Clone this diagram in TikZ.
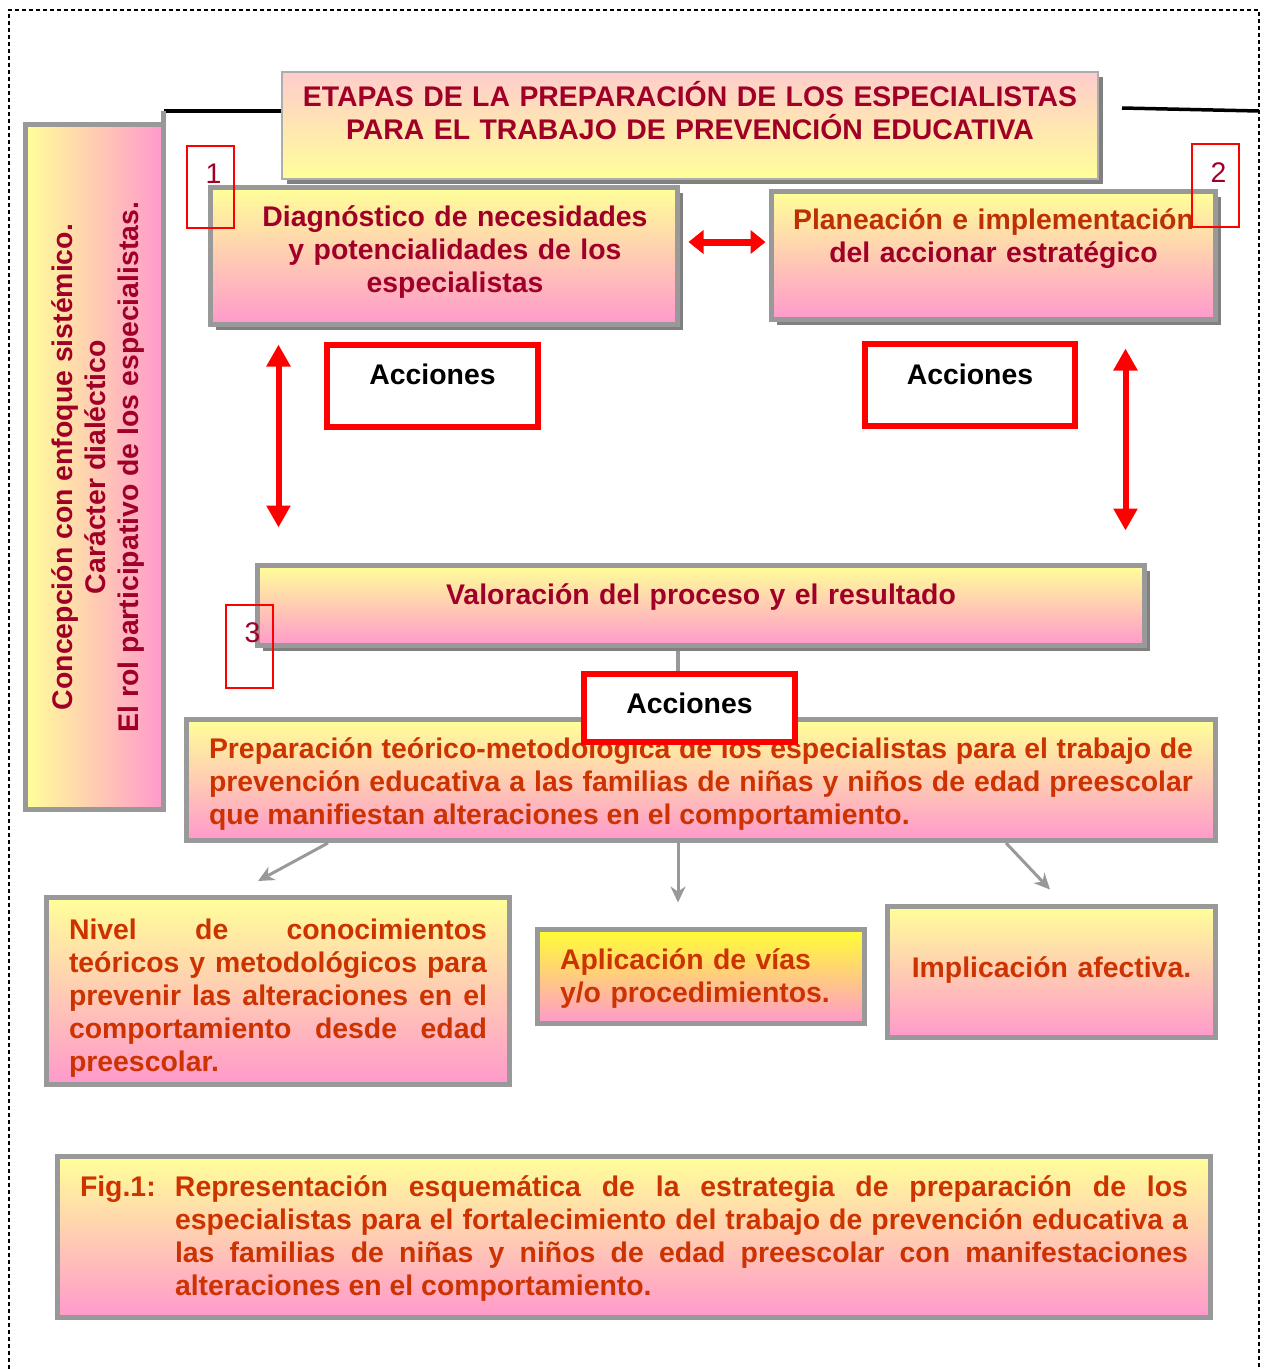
\documentclass[tikz,border=0pt]{standalone}
\usepackage{fontspec}
\setmainfont{Liberation Sans}
\usepackage{graphicx}
\usepackage{tikz}
\usetikzlibrary{shapes.geometric, arrows.meta, shadows}
\definecolor{wine}{RGB}{160,0,40}
\definecolor{rust}{RGB}{204,51,0}
\definecolor{amber}{RGB}{188,48,4}
\definecolor{rimgray}{RGB}{153,153,153}
\definecolor{dropgray}{RGB}{128,128,128}
\definecolor{lemon}{RGB}{255,255,153}
\definecolor{rose}{RGB}{255,153,204}
\definecolor{blush}{RGB}{255,204,204}
\definecolor{canary}{RGB}{255,255,51}
\tikzset{
  stage/.style={
    rectangle,
    draw=rimgray,
    line width=5pt,
    top color=lemon,
    bottom color=rose,
    inner sep=0pt,
    text=wine,
    font=\bfseries\fontsize{28.4}{33}\selectfont,
    align=center
    },
  lifted/.style={
    drop shadow={shadow xshift=5pt, shadow yshift=-5pt, fill=dropgray, opacity=1}
    },
  outcome/.style={
    stage,
    text=rust,
    inner xsep=22.5pt,
    align=justify
    },
  action/.style={
    rectangle,
    draw=red,
    line width=6pt,
    fill=white,
    inner sep=0pt,
    minimum width=211pt,
    font=\bfseries\fontsize{28.4}{33}\selectfont
    },
  tag/.style={
    rectangle,
    draw=red,
    line width=1.5pt,
    inner sep=0pt,
    minimum width=47pt,
    text=wine,
    font=\fontsize{28.4}{33}\selectfont
    },
  hdbl/.style={red, line width=7pt, {Triangle[length=15pt,width=23pt]}-{Triangle[length=15pt,width=23pt]}},
  vdbl/.style={red, line width=6pt, {Triangle[length=22pt,width=23pt]}-{Triangle[length=22pt,width=23pt]}},
  feed/.style={draw=rimgray, line width=3pt, -{Stealth[length=16pt,width=15pt]}},
  link/.style={draw=rimgray, line width=4pt},
  bar/.style={black, line width=3.5pt},
}

\begin{document}
\begin{tikzpicture}[x=1pt,y=-1pt]
\useasboundingbox (0,0) rectangle (1264,1369);
\draw[line width=1.2pt, dash pattern=on 4pt off 3pt] (9,1369) -- (9,10) -- (1259,10) -- (1259,1369);

% left column and title
\node (conc) [stage, left color=lemon, right color=rose, minimum width=138pt, minimum height=685pt] at (94.5,467)
  {\hspace*{8pt}\rotatebox{90}{\begin{tabular}{@{}c@{}}Concepción con enfoque sistémico.\\Carácter dialéctico\\El rol participativo de los especialistas.\end{tabular}}};
\node (title) [stage, lifted, top color=blush, bottom color=lemon, draw=rimgray!80, line width=2pt,
  text width=816pt, text height=34pt, text depth=73pt] at (690,125.5)
  {ETAPAS DE LA PREPARACIÓN DE LOS ESPECIALISTAS\\PARA EL TRABAJO DE PREVENCIÓN EDUCATIVA};
\coordinate (lcorner) at (163.5,111);
\draw[bar] (lcorner) -- (lcorner -| title.west);
\draw[rimgray, line width=5pt] (lcorner) -- (lcorner |- conc.north);
\coordinate (rstart) at (1122,108);
\coordinate (rend) at (1259,111);
\draw[bar] (rstart) -- (rend);

% stages
\node (diag) [stage, lifted, align=right, text width=467pt, text height=38.5pt, text depth=98.5pt] at (444,256)
  {\parbox[t]{445pt}{\centering Diagnóstico de necesidades\\y potencialidades de los\\especialistas}};
\node (plan) [stage, lifted, text width=444pt, text height=37.5pt, text depth=90.5pt] at (993.5,255.5)
  {\textcolor{amber}{Planeación e implementación}\\del accionar estratégico};
\node (valor) [stage, lifted, text width=887pt, text height=38.5pt, text depth=41.5pt] at (701,605.5)
  {Valoración del proceso y el resultado};
\node (prep) [outcome, text width=984pt, text height=38.5pt, text depth=82.5pt] at (701,780)
  {Preparación teórico-metodológica de los especialistas para el trabajo de\linebreak
   prevención educativa a las familias de niñas y niños de edad preescolar\linebreak
   que manifiestan alteraciones en el comportamiento.};

% results
\node (nivel) [outcome, text width=418pt, text height=41.5pt, text depth=145.5pt] at (278,991)
  {Nivel de conocimientos\linebreak teóricos y metodológicos para\linebreak
   prevenir las alteraciones en el\linebreak comportamiento desde edad\linebreak preescolar.};
\node (apl) [outcome, align=left, top color=canary, text width=282pt, text height=39.5pt, text depth=54.5pt] at (701,976.5)
  {Aplicación de vías\\y/o procedimientos.};
\node (impl) [outcome, align=center, inner xsep=0pt, text width=328pt, text height=70.5pt, text depth=60.5pt] at (1051.5,972)
  {Implicación afectiva.};
\node (fig) [outcome, text width=1108pt, text height=39.5pt, text depth=121.5pt] at (634,1237)
  {\makebox[95pt][l]{Fig.1:}\parbox[t]{1013pt}{Representación esquemática de la estrategia de preparación de los\linebreak
   especialistas para el fortalecimiento del trabajo de prevención educativa a\linebreak
   las familias de niñas y niños de edad preescolar con manifestaciones\linebreak
   alteraciones en el comportamiento.}};

% actions and stage numbers
\node (acc1) [action, text height=39pt, text depth=43pt] at (432.5,386) {Acciones};
\node (acc2) [action, minimum width=210pt, text height=40pt, text depth=42pt] at (970,385) {Acciones};
\node (acc3) [action, text height=39pt, text depth=29pt] at (689.5,708) {Acciones};
\node (tag1) [tag, text height=37pt, text depth=45pt] at (210.5,187) {\hspace*{6pt}1};
\node (tag2) [tag, text height=38pt, text depth=45pt] at (1215.5,185.5) {\hspace*{6pt}2};
\node (tag3) [tag, text height=37pt, text depth=46pt] at (249.5,646.5) {\hspace*{6pt}3};

\coordinate (hmid) at ([yshift=14pt]diag.east);
\draw[hdbl, shorten <=8.5pt, shorten >=3.5pt] (hmid) -- (hmid -| plan.west);
\coordinate (lv) at ([xshift=70.5pt]diag.south west);
\draw[vdbl, shorten <=17.5pt, shorten >=35.5pt] (lv) -- (lv |- valor.north);
\coordinate (rv) at ([xshift=-92.5pt]plan.south east);
\draw[vdbl, shorten <=26.5pt, shorten >=32.5pt] (rv) -- (rv |- valor.north);
\coordinate (vlink) at ([xshift=-23pt,yshift=-3pt]valor.south);
\draw[link] (vlink) -- (vlink |- acc3.north);

\draw[feed] ([xshift=-373pt]prep.south) -- ([xshift=-20pt,yshift=14pt]nivel.north);
\draw[feed] ([xshift=-23pt]prep.south) -- ([xshift=-23pt,yshift=24.5pt]apl.north);
\draw[feed] ([xshift=305pt]prep.south) -- ([xshift=-1.5pt,yshift=14.5pt]impl.north);
\end{tikzpicture}
\end{document}
